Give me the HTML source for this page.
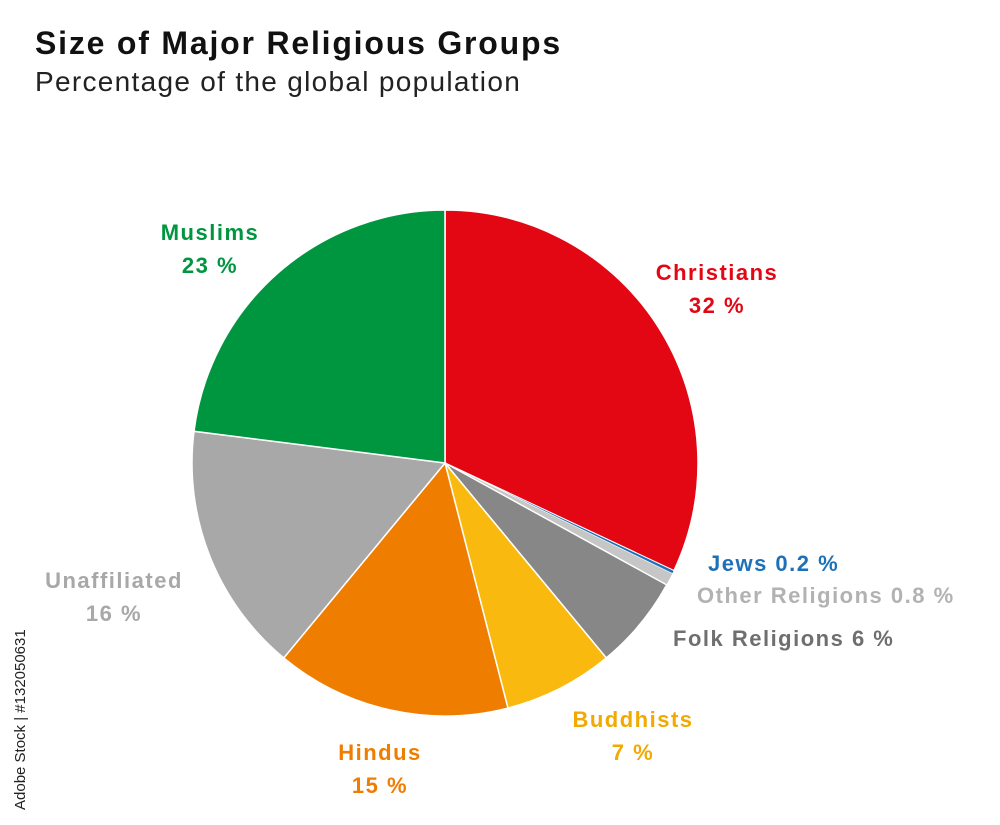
<!DOCTYPE html>
<html><head><meta charset="utf-8">
<style>
body{margin:0;background:#fff;font-family:"Liberation Sans",sans-serif;}
#wrap{position:relative;width:1000px;height:825px;overflow:hidden;background:#fff;}
.t{position:absolute;white-space:nowrap;}
</style></head><body>
<div id="wrap">
<div class="t" style="left:35px;top:25px;font-size:32px;font-weight:bold;color:#111;letter-spacing:1.8px;">Size of Major Religious Groups</div>
<div class="t" style="left:35px;top:66px;font-size:28px;color:#222;letter-spacing:1.3px;">Percentage of the global population</div>
<svg id="pie" width="1000" height="825" style="position:absolute;left:0;top:0"></svg>
<div class="t" style="left:12px;top:810px;transform:rotate(-90deg);transform-origin:0 0;font-size:15px;color:#222;">Adobe Stock | #132050631</div>
</div>
<script>
const categories=["Christians","Jews","Other Religions","Folk Religions","Buddhists","Hindus","Unaffiliated","Muslims"];
const values=[32,0.2,0.8,6,7,15,16,23];
const labels=["32 %","0.2 %","0.8 %","6 %","7 %","15 %","16 %","23 %"];
const colors=["#e30613","#1d71b8","#c6c6c6","#878787","#f9b90f","#ef7d00","#a8a8a8","#009640"];
const labelColors=["#e30613","#1d71b8","#b2b2b2","#6f6f6f","#f2a900","#ef7d00","#a8a8a8","#009640"];
const labelPos=[[717,272,"c",true],[708,563,"l",false],[697,595,"l",false],[673,638,"l",false],[633,719,"c",true],[380,752,"c",true],[114,580,"c",true],[210,232,"c",true]];
const cx=445,cy=463,r=253;
const svg=document.getElementById('pie');
const NS="http://www.w3.org/2000/svg";
const total=values.reduce((a,b)=>a+b,0);
let acc=0;
function pt(f){const a=f*2*Math.PI-Math.PI/2;return [cx+r*Math.cos(a),cy+r*Math.sin(a)];}
values.forEach((v,i)=>{
  const f0=acc/total;acc+=v;const f1=acc/total;
  const p0=pt(f0),p1=pt(f1);const large=(f1-f0)>0.5?1:0;
  const p=document.createElementNS(NS,'path');
  p.setAttribute('d',`M${cx},${cy}L${p0[0]},${p0[1]}A${r},${r} 0 ${large} 1 ${p1[0]},${p1[1]}Z`);
  p.setAttribute('fill',colors[i]);p.setAttribute('stroke','#fff');p.setAttribute('stroke-width',v<1?0.6:1.5);
  
  
  svg.appendChild(p);
  const lp=labelPos[i];
  const mk=(txt,y,anchor)=>{const t=document.createElementNS(NS,'text');t.textContent=txt;t.setAttribute('x',lp[0]);t.setAttribute('y',y);
    t.setAttribute('text-anchor',anchor);t.setAttribute('fill',labelColors[i]);t.setAttribute('font-size','22');t.setAttribute('font-weight','bold');
    t.setAttribute('letter-spacing','1.5');
    t.setAttribute('font-family','Liberation Sans, sans-serif');return t;};
  if(lp[3]){
    const a=mk(categories[i],lp[1]+8,'middle');
    
    
    svg.appendChild(a);
    const b=mk(labels[i],lp[1]+41,'middle');
    
    
    svg.appendChild(b);
  } else {
    const a=mk(categories[i]+' '+labels[i],lp[1]+8,'start');
    
    
    svg.appendChild(a);
  }
});
</script>
</body></html>
